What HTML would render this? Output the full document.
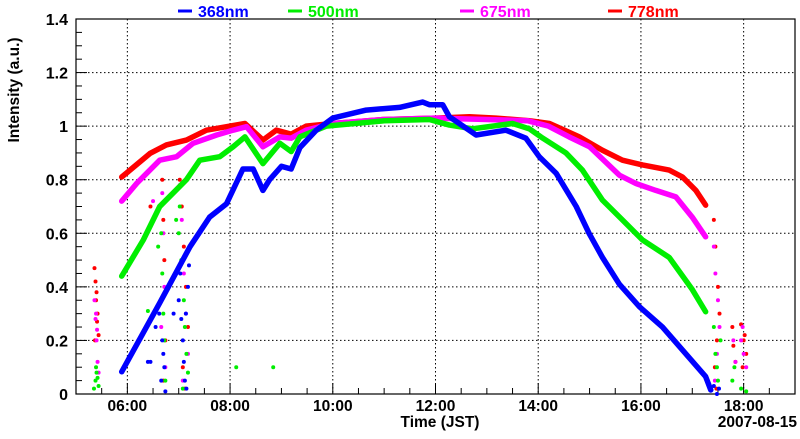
<!DOCTYPE html>
<html><head><meta charset="utf-8"><style>
body{margin:0;background:#fff;width:800px;height:434px;overflow:hidden}
svg{font-family:"Liberation Sans",sans-serif;font-weight:bold}
</style></head><body>
<svg id="c" width="800" height="434"></svg>
<script>
const seriesNames=["368nm","500nm","675nm","778nm"];
const seriesColors=["#0000ff","#00ee00","#ff00ff","#ff0000"];
const t368=[5.89,6.63,7.22,7.6,7.93,8.25,8.45,8.64,8.77,9.0,9.19,9.36,9.68,10.0,10.65,11.3,11.75,11.88,12.14,12.27,12.79,13.37,13.76,14.02,14.35,14.74,14.99,15.25,15.58,15.97,16.42,16.81,17.26,17.36];
const v368=[0.083,0.34,0.55,0.66,0.71,0.84,0.84,0.76,0.80,0.85,0.84,0.92,0.985,1.03,1.06,1.07,1.09,1.08,1.08,1.035,0.967,0.985,0.955,0.886,0.824,0.70,0.60,0.51,0.41,0.326,0.25,0.164,0.065,0.015];
const t500=[5.89,6.31,6.63,7.15,7.41,7.8,8.06,8.29,8.64,8.97,9.19,9.36,9.87,11.0,11.88,12.27,12.72,13.5,13.83,14.09,14.54,14.86,15.25,15.64,16.03,16.55,17.0,17.26];
const v500=[0.44,0.575,0.70,0.80,0.873,0.886,0.923,0.96,0.86,0.936,0.905,0.96,1.0,1.02,1.025,1.004,0.99,1.01,0.99,0.955,0.90,0.836,0.724,0.65,0.575,0.51,0.39,0.307];
const t675=[5.89,6.18,6.63,6.96,7.28,7.74,8.06,8.32,8.64,8.97,9.19,9.48,10.0,11.0,12.0,13.0,13.8,14.2,14.6,15.0,15.58,15.9,16.29,16.68,17.0,17.26];
const v675=[0.72,0.786,0.873,0.886,0.936,0.967,0.985,0.998,0.923,0.96,0.955,0.985,1.01,1.025,1.03,1.025,1.02,1.0,0.96,0.923,0.817,0.786,0.76,0.736,0.66,0.587];
const t778=[5.89,6.44,6.76,7.15,7.54,7.93,8.29,8.64,8.9,9.19,9.48,10.0,11.0,12.0,12.66,13.18,13.83,14.22,14.8,15.25,15.64,16.03,16.55,16.81,17.07,17.26];
const v778=[0.81,0.898,0.93,0.948,0.985,0.998,1.01,0.948,0.985,0.97,1.0,1.01,1.025,1.03,1.035,1.03,1.02,1.01,0.96,0.91,0.873,0.855,0.836,0.81,0.76,0.705];
const sc368T=[6.45,6.55,6.62,6.68,6.7,6.72,6.66,6.74,7.0,7.05,7.08,7.1,7.12,7.15,7.18,7.03,7.14,7.2,6.4,6.9,17.42,17.48,17.52];
const sc368V=[0.12,0.25,0.3,0.2,0.15,0.1,0.05,0.01,0.35,0.28,0.2,0.12,0.05,0.02,0.4,0.45,0.3,0.48,0.12,0.3,0.03,0.0,0.02];
const sc500T=[5.35,5.38,5.4,5.42,5.44,5.39,6.4,6.6,6.68,6.7,6.72,6.74,6.66,7.02,7.05,7.1,7.12,7.15,7.18,7.08,8.12,8.84,17.42,17.45,17.5,17.55,17.48,17.78,17.82,17.95,18.05,6.95,7.0];
const sc500V=[0.02,0.05,0.08,0.06,0.03,0.1,0.31,0.55,0.45,0.3,0.2,0.05,0.6,0.7,0.5,0.35,0.25,0.15,0.08,0.02,0.10,0.10,0.25,0.15,0.05,0.2,0.1,0.05,0.1,0.02,0.01,0.65,0.6];
const sc675T=[5.36,5.38,5.4,5.42,5.44,5.39,5.41,6.68,6.7,6.72,6.66,6.74,7.02,7.06,7.1,7.14,7.18,7.08,17.42,17.45,17.5,17.53,17.48,17.44,17.8,17.84,17.95,18.0,18.05,17.98,6.5];
const sc675V=[0.35,0.28,0.2,0.12,0.08,0.3,0.24,0.75,0.6,0.4,0.25,0.1,0.78,0.65,0.45,0.3,0.15,0.05,0.55,0.45,0.35,0.25,0.15,0.05,0.2,0.12,0.2,0.15,0.1,0.25,0.72];
const sc778T=[5.36,5.38,5.4,5.42,5.44,5.39,5.41,5.37,6.45,6.68,6.7,6.72,6.66,6.74,6.7,7.02,7.06,7.1,7.14,7.18,7.08,7.12,17.42,17.45,17.5,17.53,17.48,17.44,17.47,17.78,17.8,17.84,17.95,18.0,18.05,17.98,18.02];
const sc778V=[0.47,0.42,0.38,0.3,0.22,0.35,0.27,0.2,0.7,0.8,0.65,0.5,0.35,0.2,0.05,0.8,0.7,0.55,0.4,0.25,0.1,0.02,0.65,0.55,0.4,0.3,0.2,0.1,0.02,0.25,0.18,0.12,0.26,0.2,0.15,0.1,0.22];
const yTicks=[0,0.2,0.4,0.6,0.8,1,1.2,1.4];
const yTickLabels=["0","0.2","0.4","0.6","0.8","1","1.2","1.4"];
const xTicks=[6,8,10,12,14,16,18];
const xTickLabels=["06:00","08:00","10:00","12:00","14:00","16:00","18:00"];
const L=76,R=795,T=19,B=394,x0=5,x1=19,y0=0,y1=1.4;
const X=t=>L+(t-x0)/(x1-x0)*(R-L);
const Y=v=>B-(v-y0)/(y1-y0)*(B-T);
const svg=document.getElementById('c');const NS="http://www.w3.org/2000/svg";
function mk(tag,a,txt){const e=document.createElementNS(NS,tag);for(const k in a)e.setAttribute(k,a[k]);if(txt!==undefined)e.textContent=txt;svg.appendChild(e);return e;}
let e=mk('rect',{x:L,y:T,width:R-L,height:B-T,fill:'#fff',stroke:'#000','stroke-width':1.2});


yTicks.forEach((v,i)=>{
 if(v>0&&v<1.4){e=mk('line',{x1:L,x2:R,y1:Y(v),y2:Y(v),stroke:'#000','stroke-dasharray':'1.5,2.5','stroke-width':1});
 
 }
 e=mk('text',{x:L-8,y:Y(v)+6,'text-anchor':'end','font-size':16},yTickLabels[i]);
 
 
});
for(let v=0;v<=1.4001;v+=0.05){const maj=Math.abs(v*5-Math.round(v*5))<1e-6;mk('line',{x1:L,x2:L+(maj?11:6),y1:Y(v),y2:Y(v),stroke:'#000'});}
xTicks.forEach((t,i)=>{
 e=mk('line',{x1:X(t),x2:X(t),y1:T,y2:B,stroke:'#000','stroke-dasharray':'1.5,2.5','stroke-width':1});
 
 
 e=mk('text',{x:X(t),y:411,'text-anchor':'middle','font-size':15.5},xTickLabels[i]);
 
 
});
for(let t=5;t<=19.001;t+=0.5){const maj=Math.abs(t/2-Math.round(t/2))<1e-6;mk('line',{x1:X(t),x2:X(t),y1:B,y2:B-(maj?11:6),stroke:'#000'});}
const ts=[t368,t500,t675,t778],vals=[v368,v500,v675,v778];
const scT=[sc368T,sc500T,sc675T,sc778T],scV=[sc368V,sc500V,sc675V,sc778V];
[3,2,1,0].forEach(s=>{
 scT[s].forEach((t,i)=>{
  e=mk('circle',{cx:X(t),cy:Y(scV[s][i]),r:2,fill:seriesColors[s]});
  
  
 });
});
[3,2,1,0].forEach(s=>{
 const pts=ts[s].map((t,i)=>X(t)+','+Y(vals[s][i])).join(' ');
 e=mk('polyline',{points:pts,fill:'none',stroke:seriesColors[s],'stroke-width':5.5,'stroke-linejoin':'round','stroke-linecap':'round'});
 
 
});
const legX=[178,288,460,608];
seriesNames.forEach((n,i)=>{
 e=mk('line',{x1:legX[i],x2:legX[i]+14,y1:11,y2:11,stroke:seriesColors[i],'stroke-width':3});
 
 
 e=mk('text',{x:legX[i]+20,y:17,'font-size':16,fill:seriesColors[i]},n);
 
 
});
e=mk('text',{x:0,y:0,'font-size':15.5,'text-anchor':'middle',transform:'translate(19,90) rotate(-90)'},'Intensity (a.u.)');


e=mk('text',{x:440,y:427,'font-size':15.5,'text-anchor':'middle'},'Time (JST)');


e=mk('text',{x:797,y:427,'font-size':15.5,'text-anchor':'end'},'2007-08-15');


</script>
</body></html>
